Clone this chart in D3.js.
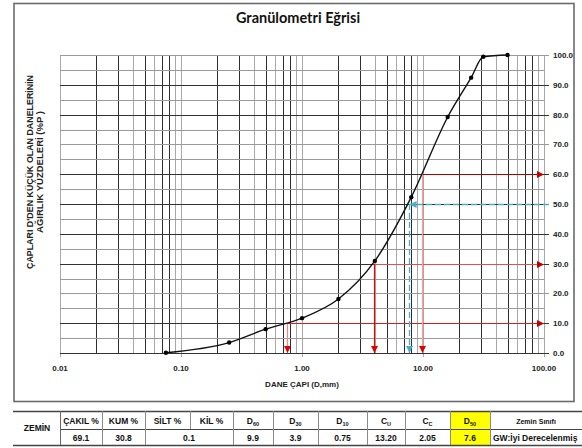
<!DOCTYPE html>
<html><head><meta charset="utf-8">
<script src="https://cdn.jsdelivr.net/npm/d3@7"></script>
<style>
html,body{margin:0;padding:0;background:#fff;}
svg{display:block;font-family:"Liberation Sans",Arial,sans-serif;}
</style></head>
<body>
<svg id="chart" width="582" height="448"></svg>
<script>
// ---- data ----
const sieveSizes = [0.075, 0.25, 0.5, 1.0, 2.0, 4.0, 8.0, 16.0, 25.0, 31.5, 50.0];
const percentPassing = [0.1, 3.5, 8.0, 11.7, 18.1, 30.9, 52.3, 79.2, 92.4, 99.4, 100.0];
const xTickValues = [0.01, 0.1, 1, 10, 100];
const xTickLabels = ["0.01", "0.10", "1.00", "10.00", "100.00"];
const yTickValues = [0, 10, 20, 30, 40, 50, 60, 70, 80, 90, 100];
const yTickLabels = ["0.0", "10.0", "20.0", "30.0", "40.0", "50.0", "60.0", "70.0", "80.0", "90.0", "100.0"];
const dPercents = [10, 30, 60];
const dDiameters = [0.75, 3.9, 9.9];
const d50Percent = 50;
const d50Diameter = 7.6;
const tableHeaders = ["ÇAKIL %", "KUM %", "SİLT %", "KİL %", "D60", "D30", "D10", "CU", "CC", "D50", "Zemin Sınıfı"];
const tableValues = ["69.1", "30.8", "0.1", "9.9", "3.9", "0.75", "13.20", "2.05", "7.6", "GW:İyi Derecelenmiş"];

// ---- layout ----
const svg = d3.select("#chart");
const L = 60, R = 544, T = 55, B = 353;
const x = d3.scaleLog().domain([0.01, 100]).range([L, R]);
const y = d3.scaleLinear().domain([0, 100]).range([B, T]);
const px = v => Math.round(v) + 0.5;

// outer frame
svg.append("rect").attr("x", 14).attr("y", 3.5).attr("width", 560).attr("height", 398)
  .attr("fill", "none").attr("stroke", "#6b6b6b").attr("stroke-width", 1.6);

// title
svg.append("text").attr("x", 298).attr("y", 23).attr("text-anchor", "middle")
  .style("font-family", "Lato, 'Open Sans', sans-serif").style("font-weight", 700).style("font-size", "14.5px")
  .attr("fill", "#111").text("Granülometri Eğrisi");

// grid
const g = svg.append("g");
const vLines = [];
for (let e = -2; e <= 1; e++) for (let k = 1; k <= 9; k++) vLines.push({v: k * Math.pow(10, e), k});
vLines.push({v: 100, k: 1});
g.selectAll("line.v").data(vLines).enter().append("line")
  .attr("x1", d => px(x(d.v))).attr("x2", d => px(x(d.v)))
  .attr("y1", T).attr("y2", d => d.k === 1 ? B + 4 : B)
  .attr("stroke", d => [2, 3, 5, 7, 8].includes(d.k) ? "#2e2e2e" : "#a8a8a8")
  .attr("stroke-width", 1);
const hLines = d3.range(0, 101, 5);
g.selectAll("line.h").data(hLines).enter().append("line")
  .attr("x1", L).attr("x2", d => d % 10 === 0 ? R + 5 : R)
  .attr("y1", d => px(y(d))).attr("y2", d => px(y(d)))
  .attr("stroke", d => (d % 10 === 0 && d !== 100 && d !== 70 && d !== 20) ? "#333" : "#9a9a9a")
  .attr("stroke-width", 1);

// axis labels
svg.append("g").selectAll("text").data(xTickValues).enter().append("text")
  .attr("x", d => x(d)).attr("y", 371).attr("text-anchor", "middle")
  .style("font-size", "8px").style("font-weight", "bold").attr("fill", "#222")
  .text((d, i) => xTickLabels[i]);
svg.append("g").selectAll("text").data(yTickValues).enter().append("text")
  .attr("x", 553).attr("y", d => y(d) + 3).attr("text-anchor", "start")
  .style("font-size", "8px").style("font-weight", "bold").attr("fill", "#222")
  .text((d, i) => yTickLabels[i]);
svg.append("text").attr("x", 302).attr("y", 387).attr("text-anchor", "middle")
  .style("font-size", "8px").style("font-weight", "bold").attr("fill", "#222")
  .text("DANE ÇAPI (D,mm)");
const yt = svg.append("g").attr("transform", "translate(0,172) rotate(-90)")
  .style("font-size", "8.5px").style("font-weight", "bold").attr("fill", "#222");
yt.append("text").attr("x", -97).attr("y", 33).attr("textLength", 194).attr("lengthAdjust", "spacingAndGlyphs")
  .text("ÇAPLARI D'DEN KÜÇÜK OLAN DANELERİNİN");
yt.append("text").attr("x", -61).attr("y", 43).attr("textLength", 122).attr("lengthAdjust", "spacingAndGlyphs")
  .text("AĞIRLIK YÜZDELERİ (%P )");

// arrow markers
const defs = svg.append("defs");
function marker(id, color) {
  defs.append("marker").attr("id", id).attr("viewBox", "0 0 10 10").attr("refX", 10).attr("refY", 5)
    .attr("markerWidth", 7).attr("markerHeight", 7).attr("markerUnits", "userSpaceOnUse").attr("orient", "auto")
    .append("path").attr("d", "M0,0 L10,5 L0,10 Z").attr("fill", color);
}
marker("arRed", "#e00000");
marker("arDark", "#c00000");
marker("arBlue", "#4bacc6");

// D lines
const hColors = ["#cc2222", "#e05050", "#b00000"];
const vColors = ["#ff8080", "#ee0000", "#ff9a9a"];
const dl = svg.append("g");
dDiameters.forEach((dv, i) => {
  dl.append("line").attr("x1", x(dv)).attr("x2", R).attr("y1", px(y(dPercents[i]))).attr("y2", px(y(dPercents[i])))
    .attr("stroke", hColors[i]).attr("stroke-width", 1.2).attr("marker-end", "url(#arDark)");
  dl.append("line").attr("x1", px(x(dv))).attr("x2", px(x(dv))).attr("y1", y(dPercents[i])).attr("y2", B)
    .attr("stroke", vColors[i]).attr("stroke-width", 1.2).attr("marker-end", "url(#arRed)");
});
dl.append("line").attr("x1", R + 5).attr("x2", x(d50Diameter) + 1).attr("y1", px(y(d50Percent))).attr("y2", px(y(d50Percent)))
  .attr("stroke", "#4bacc6").attr("stroke-width", 1.3).attr("stroke-dasharray", "6,3").attr("marker-end", "url(#arBlue)");
dl.append("line").attr("x1", px(x(d50Diameter))).attr("x2", px(x(d50Diameter))).attr("y1", y(d50Percent)).attr("y2", B)
  .attr("stroke", "#4bacc6").attr("stroke-width", 1.3).attr("stroke-dasharray", "6,3").attr("marker-end", "url(#arBlue)");

// curve
const pts = sieveSizes.map((s, i) => [x(s), y(percentPassing[i])]);
svg.append("path").attr("d", d3.line().curve(d3.curveMonotoneX)(pts))
  .attr("fill", "none").attr("stroke", "#111").attr("stroke-width", 1.4);
svg.append("g").selectAll("circle").data(pts).enter().append("circle")
  .attr("cx", d => d[0]).attr("cy", d => d[1]).attr("r", 2.2).attr("fill", "#000");

// ---- table ----
const tb = svg.append("g");
const colX = [60, 102, 145, 190, 233, 273, 318, 367, 405, 450, 490, 582];
const rowY = [411, 429, 445];
tb.append("rect").attr("x", colX[9]).attr("y", rowY[0]).attr("width", colX[10] - colX[9]).attr("height", rowY[2] - rowY[0]).attr("fill", "#ffff00");
[0, 1, 2].forEach(r => tb.append("line").attr("x1", r === 1 ? colX[0] : 13).attr("x2", 582)
  .attr("y1", rowY[r] + 0.5).attr("y2", rowY[r] + 0.5).attr("stroke", "#444").attr("stroke-width", r === 1 ? 1 : 1.5));
colX.slice(0, 11).forEach((cx, i) => {
  tb.append("line").attr("x1", cx + 0.5).attr("x2", cx + 0.5).attr("y1", rowY[0])
    .attr("y2", i === 3 ? rowY[1] : rowY[2]).attr("stroke", i === 0 ? "#666" : "#8a8a8a").attr("stroke-width", 1);
});
tb.append("text").attr("x", 37).attr("y", 431).attr("text-anchor", "middle")
  .style("font-size", "8.5px").style("font-weight", "bold").attr("fill", "#111").text("ZEMİN");
tableHeaders.forEach((h, i) => {
  const cx = (colX[i] + colX[i + 1]) / 2;
  const t = tb.append("text").attr("x", cx).attr("y", 424).attr("text-anchor", "middle")
    .style("font-size", i === 10 ? "7px" : "8.5px").style("font-weight", "bold").attr("fill", "#111");
  if (/^[DC]/.test(h) && h.length <= 3) {
    t.append("tspan").text(h[0]);
    t.append("tspan").attr("dy", 2).style("font-size", "5.5px").text(h.slice(1));
  } else t.text(h);
});
const valCols = [[0, 1], [1, 2], [2, 4], [4, 5], [5, 6], [6, 7], [7, 8], [8, 9], [9, 10], [10, 11]];
tableValues.forEach((v, i) => {
  const [a, b] = valCols[i];
  tb.append("text").attr("x", i === 9 ? colX[a] + 3 : (colX[a] + colX[b]) / 2).attr("y", 441)
    .attr("text-anchor", i === 9 ? "start" : "middle")
    .style("font-size", "8.5px").style("font-weight", "bold").attr("fill", "#111").text(v);
});
</script>
</body></html>
